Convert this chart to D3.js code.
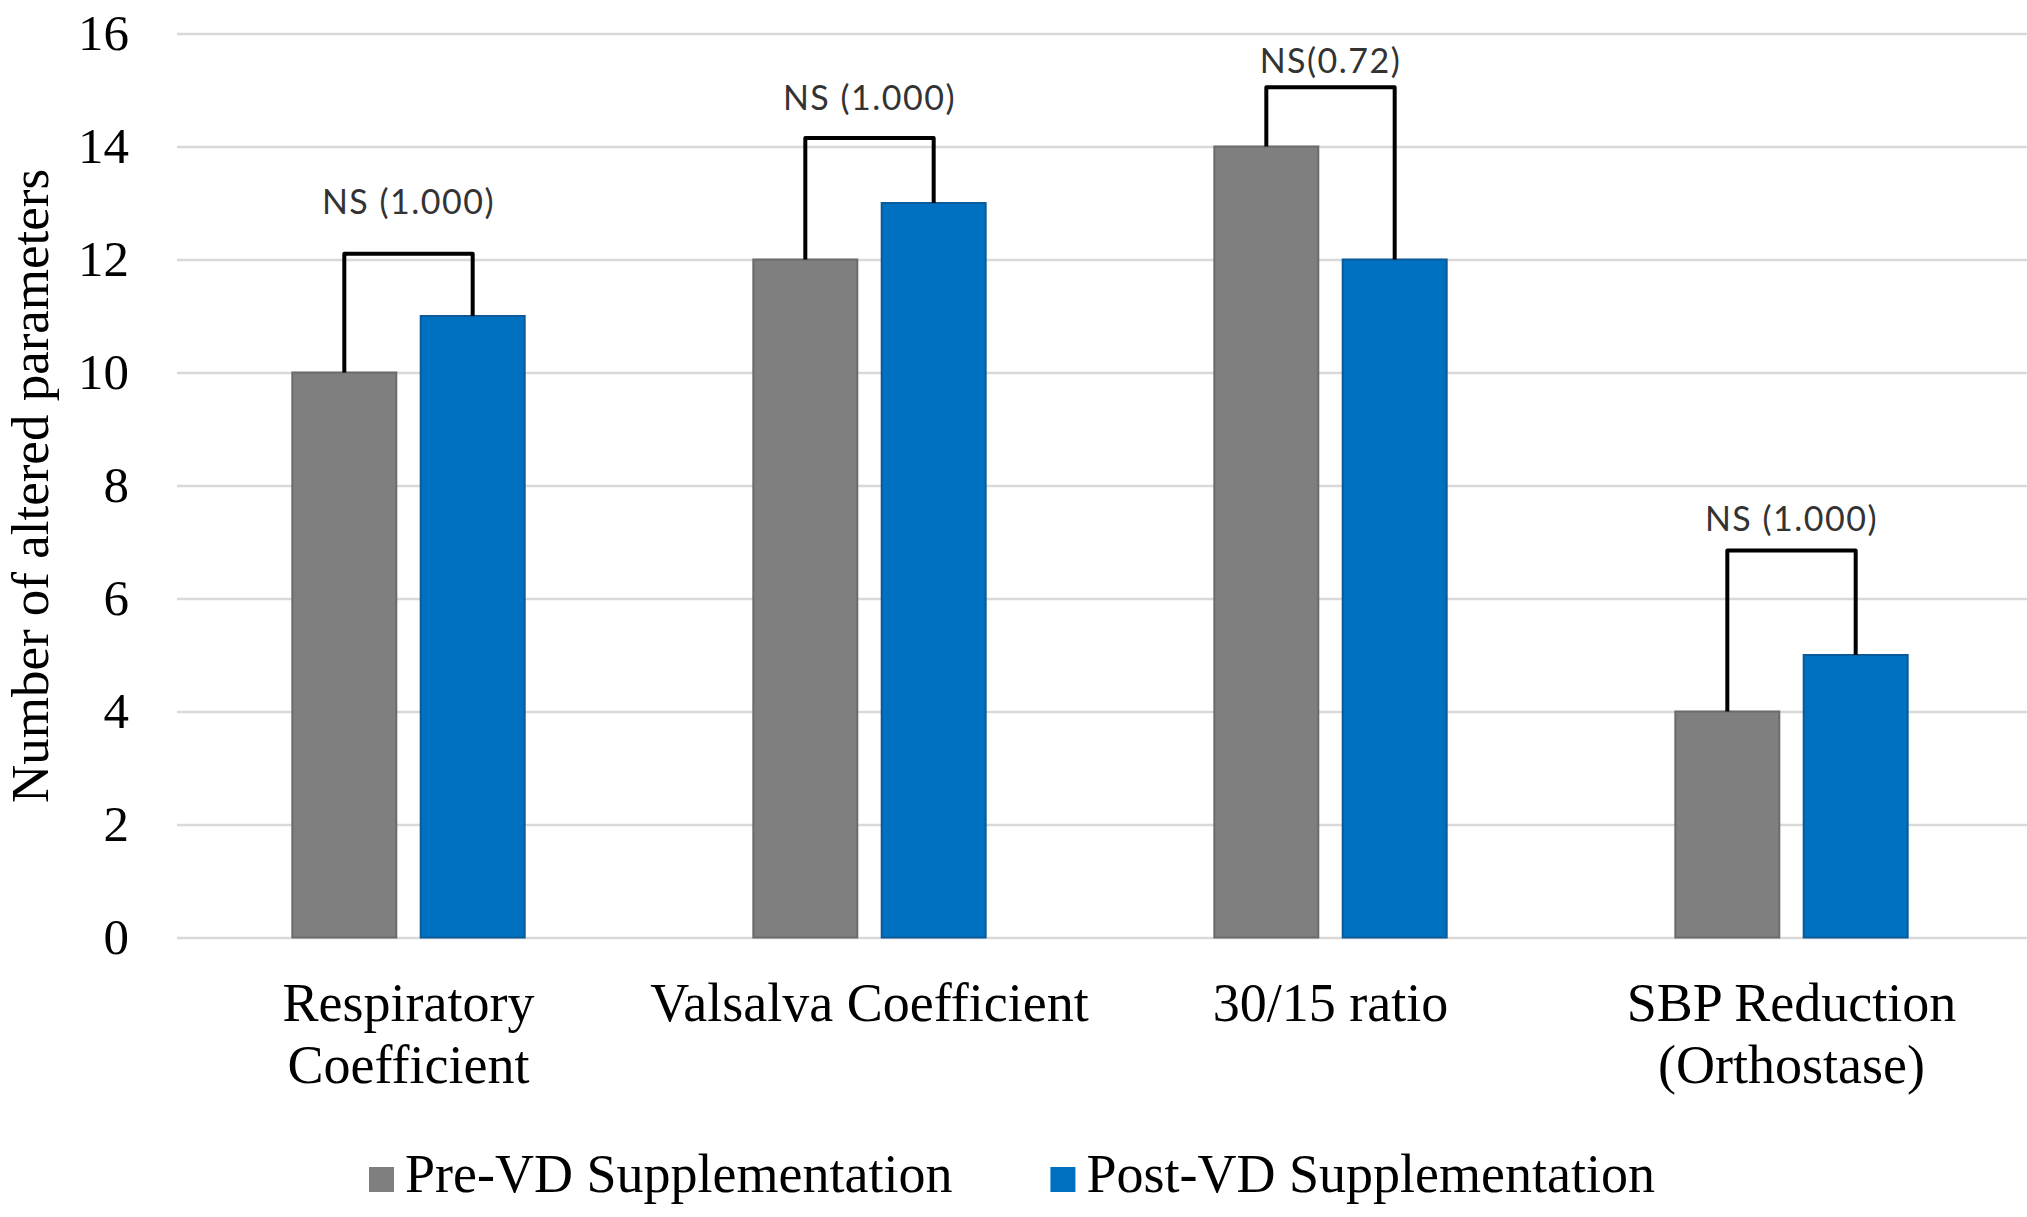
<!DOCTYPE html>
<html>
<head>
<meta charset="utf-8">
<script src="https://cdn.jsdelivr.net/npm/d3@7"></script>
<style>
  body { margin: 0; background: #fff; }
  svg { display: block; }
</style>
</head>
<body>
<svg class="chart"></svg>
<script>
const width = 2027;
const height = 1217;

// data
const categories = ['Respiratory\nCoefficient', 'Valsalva Coefficient', '30/15 ratio', 'SBP Reduction\n(Orthostase)'];
const series = ['Pre-VD Supplementation', 'Post-VD Supplementation'];
const preValues = [10, 12, 14, 4];
const postValues = [11, 13, 12, 5];
const yTicks = [0, 2, 4, 6, 8, 10, 12, 14, 16];

// significance brackets: top of bracket and label baseline, in axis units
const pLabels = ['NS (1.000)', 'NS (1.000)', 'NS(0.72)', 'NS (1.000)'];
const bracketTops = [12.1, 14.15, 15.05, 6.85];
const labelLevels = [12.8, 14.65, 15.3, 7.2];

const colors = ['#7f7f7f', '#0070c0'];
const edges = ['#6b6b6b', '#0b5a9a'];

const serif = '"Liberation Serif", "Times New Roman", serif';

const svg = d3.select('.chart')
              .attr('width', width)
              .attr('height', height)
              .attr('viewBox', [0, 0, width, height]);

const y = d3.scaleLinear()
            .domain([0, 16])
            .range([937.5, 33.5]);

const x0 = d3.scaleBand()
             .domain(categories)
             .range([178, 2022])
             .padding(0);

const x1 = d3.scaleBand()
             .domain(series)
             .range([x0.bandwidth() * 0.248, x0.bandwidth() * 0.752])
             .paddingInner(0.19);

// y axis with gridlines
const yAxis = svg.append('g')
                 .attr('transform', 'translate(177,0)')
                 .call(d3.axisLeft(y)
                         .tickValues(yTicks)
                         .tickSizeInner(-(width - 177))
                         .tickSizeOuter(0)
                         .tickPadding(48));

yAxis.select('.domain').remove();
yAxis.selectAll('line')
     .attr('stroke', '#d9d9d9')
     .attr('stroke-width', 2.5);
yAxis.selectAll('text')
     .attr('font-family', serif)
     .attr('font-size', 51)
     .attr('fill', '#000');

// y axis title
svg.append('text')
   .attr('transform', 'rotate(-90)')
   .attr('x', -486)
   .attr('y', 48)
   .attr('text-anchor', 'middle')
   .attr('font-family', serif)
   .attr('font-size', 53)
   .attr('fill', '#000')
   .text('Number of altered parameters');

// bars
const rows = categories.map(function(c, i) {
    return { category: c, values: [preValues[i], postValues[i]] };
});

const group = svg.append('g')
                 .selectAll('g')
                 .data(rows)
                 .join('g')
                 .attr('transform', function(d) {
                     return 'translate(' + x0(d.category) + ',0)';
                 });

group.selectAll('rect')
     .data(function(d) {
         return d.values.map(function(v, i) {
             return { key: series[i], value: v, i: i };
         });
     })
     .join('rect')
     .attr('x', function(d) { return x1(d.key); })
     .attr('y', function(d) { return y(d.value); })
     .attr('width', x1.bandwidth())
     .attr('height', function(d) { return y(0) - y(d.value); })
     .attr('fill', function(d) { return colors[d.i]; })
     .attr('stroke', function(d) { return edges[d.i]; })
     .attr('stroke-width', 2);

// brackets
group.append('path')
     .attr('fill', 'none')
     .attr('stroke', '#000')
     .attr('stroke-width', 4)
     .attr('stroke-linejoin', 'round')
     .attr('d', function(d, i) {
         const xa = x1(series[0]) + x1.bandwidth() / 2;
         const xb = x1(series[1]) + x1.bandwidth() / 2;
         const p = d3.path();
         p.moveTo(xa, y(d.values[0]));
         p.lineTo(xa, y(bracketTops[i]));
         p.lineTo(xb, y(bracketTops[i]));
         p.lineTo(xb, y(d.values[1]));
         return p.toString();
     });

group.append('text')
     .attr('x', function() {
         return (x1(series[0]) + x1(series[1]) + x1.bandwidth()) / 2;
     })
     .attr('y', function(d, i) { return y(labelLevels[i]); })
     .attr('text-anchor', 'middle')
     .attr('font-family', 'Lato, "Open Sans", sans-serif')
     .attr('font-size', 34)
     .attr('letter-spacing', 1.5)
     .attr('fill', '#333')
     .text(function(d, i) { return pLabels[i]; });

// category labels
svg.append('g')
   .selectAll('text')
   .data(categories)
   .join('text')
   .attr('x', function(d) { return x0(d) + x0.bandwidth() / 2; })
   .attr('y', 1021)
   .attr('text-anchor', 'middle')
   .attr('font-family', serif)
   .attr('font-size', 54)
   .attr('fill', '#000')
   .selectAll('tspan')
   .data(function(d) { return d.split('\n'); })
   .join('tspan')
   .attr('x', function() {
       return d3.select(this.parentNode).attr('x');
   })
   .attr('dy', function(d, i) { return i === 0 ? 0 : 62; })
   .text(function(d) { return d; });

// legend
const legend = svg.append('g')
                  .attr('transform', 'translate(369,1192)');

let offset = 0;
series.forEach(function(name, i) {
    const item = legend.append('g')
                       .attr('transform', 'translate(' + offset + ',0)');
    item.append('rect')
        .attr('x', 0)
        .attr('y', -25)
        .attr('width', 25)
        .attr('height', 25)
        .attr('fill', colors[i]);
    const label = item.append('text')
                      .attr('x', 36)
                      .attr('y', 0)
                      .attr('font-family', serif)
                      .attr('font-size', 54)
                      .attr('fill', '#000')
                      .text(name);
    offset += 36 + label.node().getComputedTextLength() + 98;
});
</script>
</body>
</html>
